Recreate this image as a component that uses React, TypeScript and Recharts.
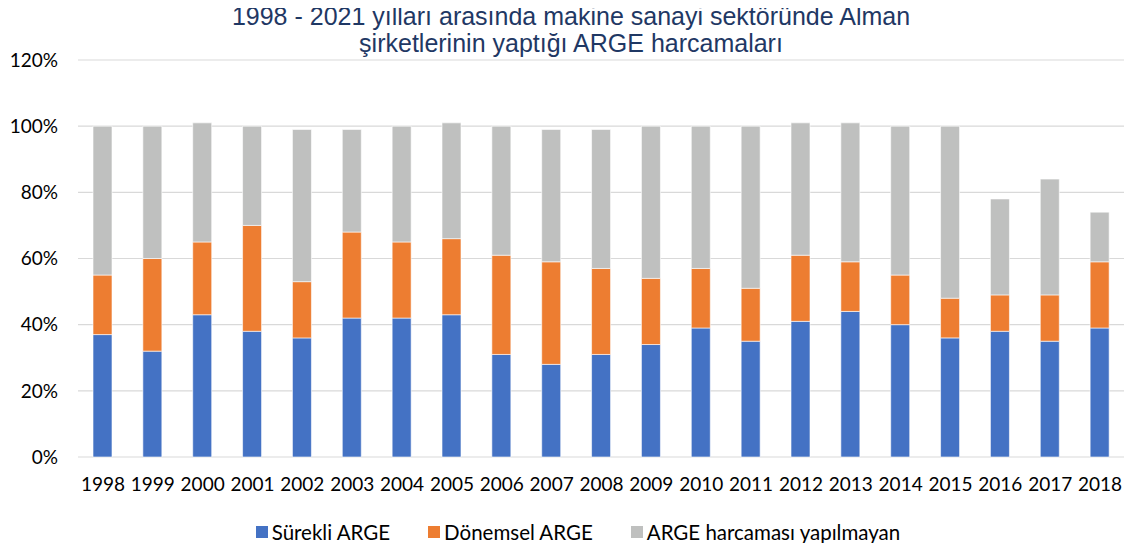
import { BarChart, Bar, XAxis, YAxis, CartesianGrid } from "recharts";

const years = [
  "1998", "1999", "2000", "2001", "2002", "2003", "2004", "2005", "2006", "2007",
  "2008", "2009", "2010", "2011", "2012", "2013", "2014", "2015", "2016", "2017", "2018",
];

// values in %
const surekli = [37, 32, 43, 38, 36, 42, 42, 43, 31, 28, 31, 34, 39, 35, 41, 44, 40, 36, 38, 35, 39];
const donemsel = [18, 28, 22, 32, 17, 26, 23, 23, 30, 31, 26, 20, 18, 16, 20, 15, 15, 12, 11, 14, 20];
const yapilmayan = [45, 40, 36, 30, 46, 31, 35, 35, 39, 40, 42, 46, 43, 49, 40, 42, 45, 52, 29, 35, 15];

const yTicks = [0, 20, 40, 60, 80, 100, 120];

const series = [
  { key: "surekli", name: "Sürekli ARGE", color: "#4472C4" },
  { key: "donemsel", name: "Dönemsel ARGE", color: "#ED7D31" },
  { key: "yapilmayan", name: "ARGE harcaması yapılmayan", color: "#BFC0BF" },
];

const data = years.map((year, i) => ({
  year,
  surekli: surekli[i],
  donemsel: donemsel[i],
  yapilmayan: yapilmayan[i],
}));

const font = "Lato, 'Noto Sans', sans-serif";

export default function App() {
  return (
    <div style={{ position: "relative", width: 1132, height: 551, margin: -8, background: "#fff" }}>
      <BarChart
        width={1132}
        height={551}
        data={data}
        margin={{ top: 60, right: 7, bottom: 64, left: 0 }}
      >
        <CartesianGrid vertical={false} stroke="#D9D9D9" strokeWidth={1.2} />
        <XAxis
          dataKey="year"
          axisLine={false}
          tickLine={false}
          tickMargin={15}
          interval={0}
          tick={{ fill: "#000", fontSize: 19, fontFamily: font }}
        />
        <YAxis
          width={78}
          domain={[0, 120]}
          ticks={yTicks}
          axisLine={false}
          tickLine={false}
          tickMargin={14}
          tickFormatter={(v: number) => `${v}%`}
          tick={{ fill: "#000", fontSize: 19, fontFamily: font }}
        />
        {series.map((s) => (
          <Bar
            key={s.key}
            dataKey={s.key}
            name={s.name}
            stackId="a"
            fill={s.color}
            barSize={19}
            stroke="#ffffff"
            strokeWidth={0.6}
            isAnimationActive={false}
          />
        ))}
      </BarChart>

      <div
        style={{
          position: "absolute",
          zIndex: 5,
          top: 3,
          left: 0,
          width: 1142,
          textAlign: "center",
          fontFamily: "'Liberation Sans', Arial, sans-serif",
          fontSize: 25,
          lineHeight: "27px",
          color: "#1F3864",
        }}
      >
        1998 - 2021 yılları arasında makine sanayi sektöründe Alman
        <br />
        şirketlerinin yaptığı ARGE harcamaları
      </div>

      <div
        style={{
          position: "absolute",
          zIndex: 5,
          top: 520,
          left: 0,
          width: 1156,
          display: "flex",
          justifyContent: "center",
          gap: 38,
          fontFamily: font,
          fontSize: 20.5,
          color: "#000",
        }}
      >
        {series.map((s) => (
          <div key={s.key} style={{ display: "flex", alignItems: "center" }}>
            <span style={{ display: "inline-block", width: 12, height: 12, background: s.color, marginRight: 4 }} />
            <span>{s.name}</span>
          </div>
        ))}
      </div>
    </div>
  );
}
